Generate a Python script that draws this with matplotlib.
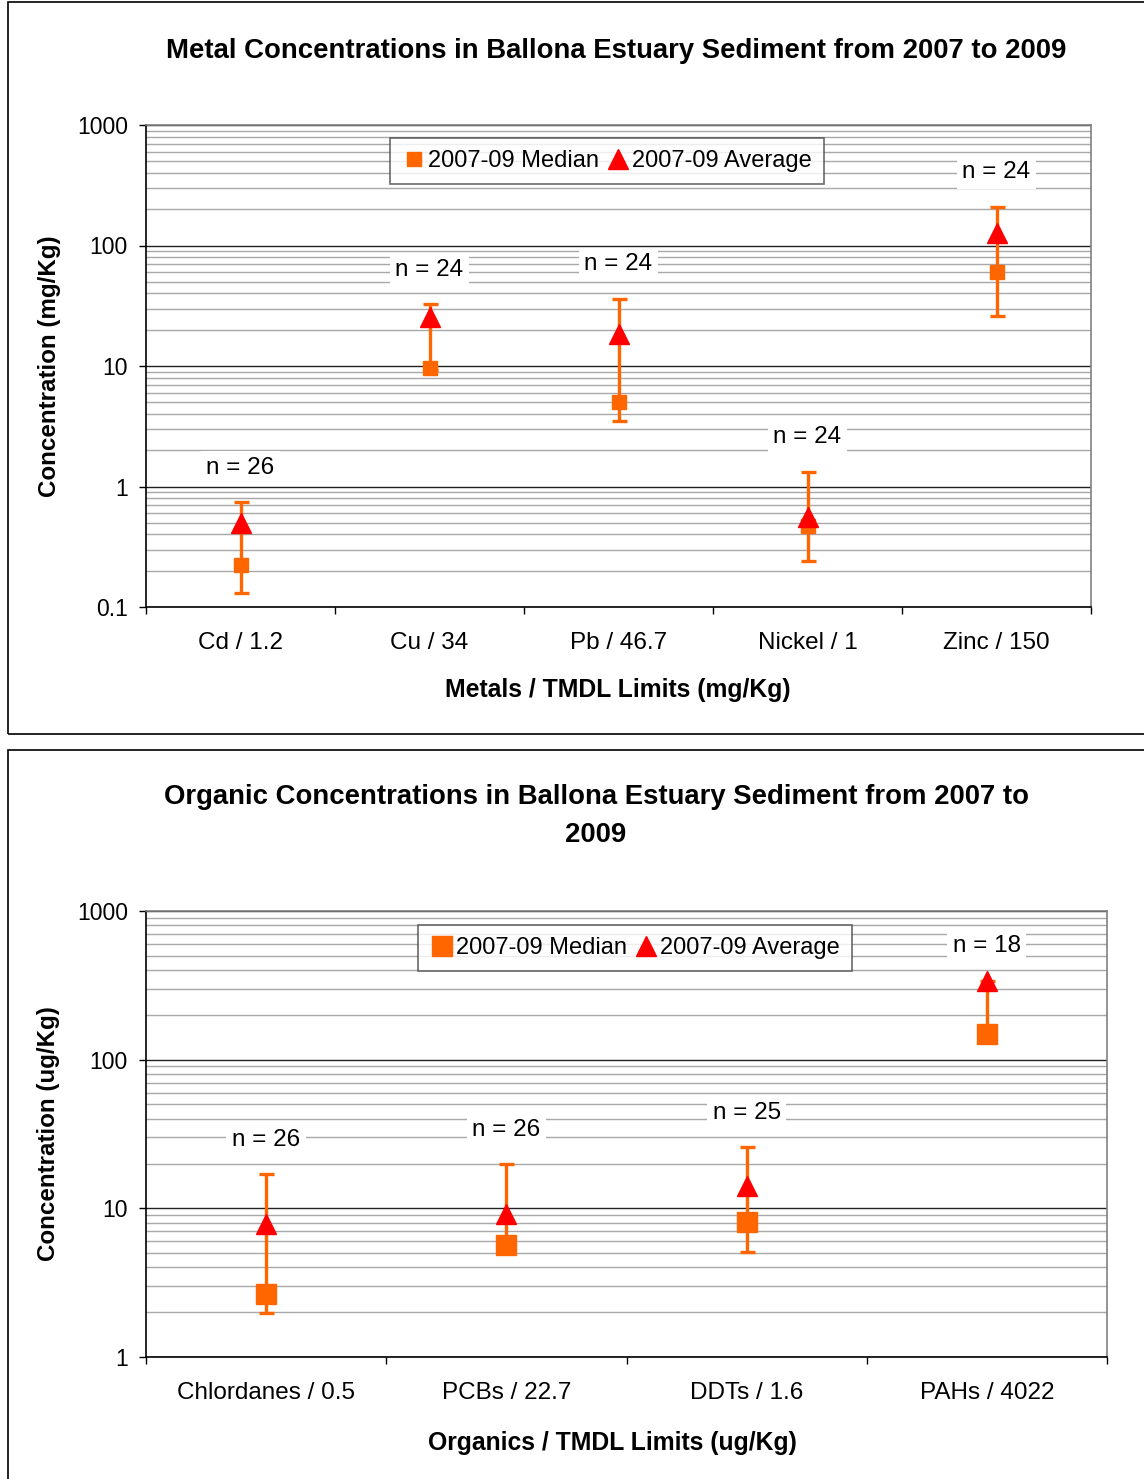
import numpy as np
import matplotlib
matplotlib.use("Agg")
from matplotlib import pyplot as plt
from matplotlib import ticker
from matplotlib.patches import Rectangle

plt.rcParams['font.family'] = ['Liberation Sans', 'DejaVu Sans']

# metals (mg/Kg)
metal_names = ["Cd / 1.2", "Cu / 34", "Pb / 46.7", "Nickel / 1", "Zinc / 150"]
metal_median = [0.225, 9.7, 5.0, 0.47, 60]
metal_average = [0.50, 25.3, 18.6, 0.56, 128]
metal_low = [0.13, 9.3, 3.5, 0.243, 25.8]
metal_high = [0.74, 32.4, 36, 1.33, 210]
metal_n = [26, 24, 24, 24, 24]

# organics (ug/Kg)
org_names = ["Chlordanes / 0.5", "PCBs / 22.7", "DDTs / 1.6", "PAHs / 4022"]
org_median = [2.64, 5.7, 8.05, 148]
org_average = [7.9, 9.1, 14.1, 336]
org_low = [1.97, 5.4, 5.1, 145]
org_high = [16.9, 19.8, 25.7, 340]
org_n = [26, 26, 25, 18]

W, H = 1144, 1479
ORANGE = "#FF6600"
RED = "#FF0000"


def px_axes(fig, x0, y0, x1, y1):
    return fig.add_axes([x0 / W, 1 - y1 / H, (x1 - x0) / W, (y1 - y0) / H])


def draw(ax, names, median, average, low, high, ns, ylim, sq_size, ylabel, xlabel):
    x = np.arange(len(names))
    median = np.array(median)
    low = np.array(low)
    high = np.array(high)
    err = [np.clip(median - low, 0, None), np.clip(high - median, 0, None)]
    ax.errorbar(x, median, yerr=err, fmt="none",
                ecolor=ORANGE, elinewidth=2.4, capsize=5.4, capthick=2.4, zorder=3)
    ax.plot(x, median, "s", color=ORANGE, markersize=sq_size, zorder=4,
            label="2007-09 Median")
    ax.plot(x, average, "^", color=RED, markersize=14, zorder=5,
            label="2007-09 Average")
    for i in range(len(x)):
        ax.annotate(f"n = {ns[i]}", xy=(x[i], high[i]), xytext=(0, 25),
                    textcoords="offset points", ha="center", va="center",
                    fontsize=17.5, zorder=6,
                    bbox=dict(facecolor="white", edgecolor="none", pad=4))

    ax.set_yscale("log")
    ax.set_ylim(*ylim)
    ax.set_xlim(-0.5, len(names) - 0.5)
    ax.yaxis.set_major_locator(ticker.LogLocator(base=10, numticks=10))
    ax.yaxis.set_minor_locator(ticker.LogLocator(base=10, subs=np.arange(2, 10), numticks=20))
    ax.yaxis.set_major_formatter(ticker.FuncFormatter(lambda v, p: f"{v:g}"))
    ax.yaxis.set_minor_formatter(ticker.NullFormatter())
    ax.grid(which="minor", axis="y", color="#A8A8A8", lw=1.0, zorder=0)
    ax.grid(which="major", axis="y", color="#222222", lw=1.0, zorder=0)
    ax.set_axisbelow(True)

    ax.set_xticks(x)
    ax.set_xticklabels(names, fontsize=17.5)
    ax.set_xticks(np.arange(len(names) + 1) - 0.5, minor=True)
    ax.tick_params(axis="x", which="major", length=0, pad=18)
    ax.tick_params(axis="x", which="minor", length=5, direction="out", width=1)
    ax.tick_params(axis="y", which="major", length=5, direction="out", width=1,
                   labelsize=16.5, pad=8)
    ax.tick_params(axis="y", which="minor", length=0)

    for s in ["left", "bottom"]:
        ax.spines[s].set_color("black")
        ax.spines[s].set_linewidth(1.2)
    for s in ["top", "right"]:
        ax.spines[s].set_color("#808080")
        ax.spines[s].set_linewidth(1.2)

    ax.set_ylabel(ylabel, fontsize=17.4, fontweight="bold")
    ax.set_xlabel(xlabel, fontsize=17.8, fontweight="bold")


fig = plt.figure(figsize=(W / 100, H / 100), dpi=100)

# panel borders
fig.patches.append(Rectangle((8 / W, 1 - 734 / H), 1.1, 732 / H, transform=fig.transFigure,
                             fill=False, edgecolor="black", lw=1.2))
fig.patches.append(Rectangle((8 / W, -0.05), 1.1, 1 - 750 / H + 0.05, transform=fig.transFigure,
                             fill=False, edgecolor="black", lw=1.2))

ax1 = px_axes(fig, 146, 125, 1091, 607)
draw(ax1, metal_names, metal_median, metal_average, metal_low, metal_high, metal_n,
     (0.1, 1000), 9.4, "Concentration (mg/Kg)", "Metals / TMDL Limits (mg/Kg)")
ax1.xaxis.set_label_coords(0.4995, -0.147)
ax1.yaxis.set_label_coords(-0.090, 0.5)
fig.text(616 / W, 1 - 51 / H, "Metal Concentrations in Ballona Estuary Sediment from 2007 to 2009",
         ha="center", va="center", fontsize=19.8, fontweight="bold")

ax2 = px_axes(fig, 146, 911, 1107, 1357)
draw(ax2, org_names, org_median, org_average, org_low, org_high, org_n,
     (1, 1000), 13.7, "Concentration (ug/Kg)", "Organics / TMDL Limits (ug/Kg)")
ax2.xaxis.set_label_coords(0.485, -0.166)
ax2.yaxis.set_label_coords(-0.089, 0.5)
fig.text(596 / W, 1 - 816 / H,
         "Organic Concentrations in Ballona Estuary Sediment from 2007 to\n2009",
         ha="center", va="center", fontsize=19.8, fontweight="bold", linespacing=1.55)

legend_anchor = {ax1: (0.488, 1 - 13 / 482), ax2: (0.509, 1 - 14 / 446)}
for ax in (ax1, ax2):
    leg = ax.legend(loc="upper center", bbox_to_anchor=legend_anchor[ax], ncol=2,
                    fontsize=17, frameon=True, fancybox=False, handletextpad=0.1,
                    columnspacing=0.3, handlelength=1.0, borderpad=0.5,
                    borderaxespad=0)
    leg.get_frame().set_edgecolor("#444444")
    leg.get_frame().set_linewidth(1.2)

fig.savefig("out.png", dpi=100)
